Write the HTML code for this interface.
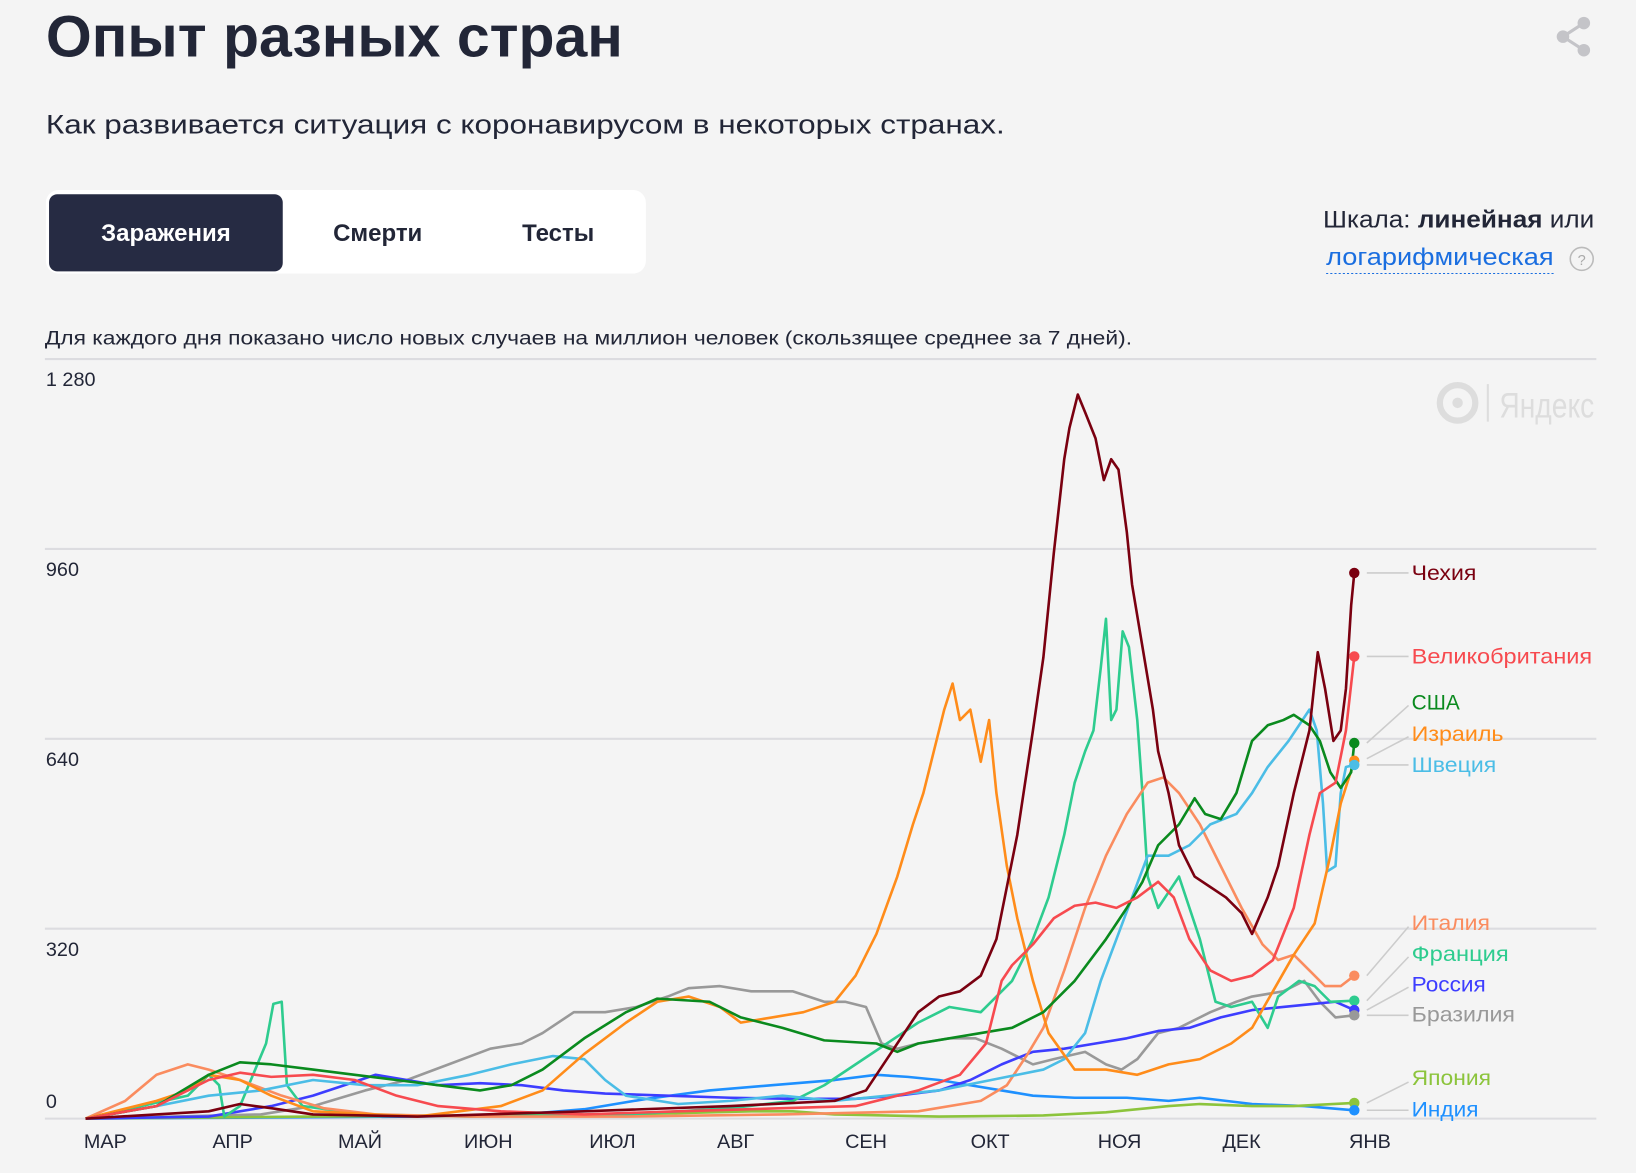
<!DOCTYPE html>
<html><head><meta charset="utf-8"><style>
html,body{margin:0;padding:0;background:#f4f4f4;}
svg{display:block}
text{font-family:"Liberation Sans",sans-serif;}
</style></head><body>
<svg width="1636" height="1173" viewBox="0 0 1568 1124" xmlns="http://www.w3.org/2000/svg">
<rect width="1568" height="1124" fill="#f4f4f4"/>
<text x="44" y="54" font-size="56" font-weight="bold" fill="#222637" textLength="553" lengthAdjust="spacingAndGlyphs">Опыт разных стран</text>
<text x="44" y="128" font-size="26" fill="#222637" textLength="919" lengthAdjust="spacingAndGlyphs">Как развивается ситуация с коронавирусом в некоторых странах.</text>
<g fill="#c4c4c8"><circle cx="1518" cy="22" r="6"/><circle cx="1498" cy="35" r="6"/><circle cx="1518" cy="48" r="6"/></g>
<path d="M1518 22L1498 35L1518 48" stroke="#c4c4c8" stroke-width="3" fill="none"/>
<rect x="44" y="182" width="575" height="80" rx="12" fill="#fff"/>
<rect x="47" y="186" width="224" height="74" rx="8" fill="#262b43"/>
<text x="159" y="231" font-size="23" fill="#fff" text-anchor="middle" font-weight="bold">Заражения</text>
<text x="362" y="231" font-size="23" fill="#222637" text-anchor="middle" font-weight="bold">Смерти</text>
<text x="535" y="231" font-size="23" fill="#222637" text-anchor="middle" font-weight="bold">Тесты</text>
<text x="1268" y="218" font-size="23" fill="#222637" textLength="260" lengthAdjust="spacingAndGlyphs">Шкала: <tspan font-weight="bold">линейная</tspan> или</text>
<text x="1271" y="254" font-size="23" fill="#1a6ee0" textLength="218" lengthAdjust="spacingAndGlyphs">логарифмическая</text>
<line x1="1271" y1="262" x2="1489" y2="262" stroke="#1a6ee0" stroke-dasharray="2,2"/>
<circle cx="1516" cy="248" r="11" fill="none" stroke="#bbb" stroke-width="1.5"/>
<text x="1516" y="254" font-size="14" fill="#aaa" text-anchor="middle">?</text>
<text x="43" y="330" font-size="19" fill="#222637" textLength="1042" lengthAdjust="spacingAndGlyphs">Для каждого дня показано число новых случаев на миллион человек (скользящее среднее за 7 дней).</text>
<g stroke="#dcdce0" stroke-width="2">
<line x1="43" y1="344" x2="1530" y2="344"/><line x1="43" y1="526" x2="1530" y2="526"/><line x1="43" y1="708" x2="1530" y2="708"/><line x1="43" y1="890" x2="1530" y2="890"/><line x1="43" y1="1072" x2="1530" y2="1072"/></g>
<g font-size="19" fill="#222637">
<text x="44" y="370">1 280</text><text x="44" y="552">960</text><text x="44" y="734">640</text><text x="44" y="916">320</text><text x="44" y="1062">0</text></g>
<g font-size="19" fill="#222637" text-anchor="middle">
<text x="101" y="1100">МАР</text><text x="223" y="1100">АПР</text><text x="345" y="1100">МАЙ</text><text x="468" y="1100">ИЮН</text><text x="587" y="1100">ИЮЛ</text><text x="705" y="1100">АВГ</text><text x="830" y="1100">СЕН</text><text x="949" y="1100">ОКТ</text><text x="1073" y="1100">НОЯ</text><text x="1190" y="1100">ДЕК</text><text x="1313" y="1100">ЯНВ</text></g>
<circle cx="1397" cy="386" r="17" fill="none" stroke="#ddd" stroke-width="6"/><circle cx="1397" cy="386" r="5" fill="#ddd"/>
<line x1="1426" y1="368" x2="1426" y2="404" stroke="#ddd" stroke-width="2"/>
<text x="1437" y="400" font-size="34" fill="#ddd" textLength="91" lengthAdjust="spacingAndGlyphs">Яндекс</text>
<g fill="none" stroke-width="2.5" stroke-linejoin="round">
<polyline stroke="#999" points="82,1072 250,1068 300,1060 350,1045 390,1035 430,1020 470,1005 500,1000 520,990 550,970 580,970 610,965 640,955 660,947 690,945 720,950 760,950 790,960 810,960 830,965 845,1000 860,1005 880,1000 910,995 935,995 960,1005 990,1020 1010,1015 1040,1008 1060,1020 1075,1025 1090,1015 1110,990 1130,985 1160,970 1185,960 1200,955 1230,950 1250,940 1265,960 1280,975 1298,973"/>
<polyline stroke="#1e90ff" points="82,1072 400,1070 500,1068 560,1063 620,1053 680,1045 740,1040 800,1035 840,1030 870,1032 900,1035 930,1040 960,1045 990,1050 1030,1052 1080,1052 1120,1055 1150,1052 1200,1058 1250,1060 1298,1064"/>
<polyline stroke="#8cc43c" points="82,1072 300,1070 600,1068 720,1065 760,1065 800,1068 900,1070 1000,1069 1060,1066 1120,1060 1150,1058 1200,1060 1240,1060 1298,1057"/>
<polyline stroke="#3d3dff" points="82,1072 200,1070 260,1060 300,1050 330,1040 360,1030 390,1035 420,1040 460,1038 500,1040 540,1045 580,1048 640,1050 700,1052 760,1053 820,1053 860,1050 900,1045 930,1035 960,1020 990,1008 1020,1005 1050,1000 1080,995 1110,988 1140,985 1170,975 1200,968 1230,965 1260,962 1280,960 1298,968"/>
<polyline stroke="#2ecc8f" points="82,1072 180,1050 200,1030 210,1040 215,1070 230,1060 255,1000 262,962 270,960 275,1040 290,1060 350,1068 450,1070 600,1068 700,1062 760,1055 790,1040 820,1020 850,1000 880,980 910,965 940,970 970,940 990,900 1005,860 1020,800 1030,750 1040,720 1048,700 1055,640 1060,593 1065,690 1070,680 1076,605 1082,620 1090,690 1095,760 1100,840 1110,870 1130,840 1150,900 1165,960 1180,965 1200,960 1215,985 1225,955 1245,940 1260,945 1275,960 1298,959"/>
<polyline stroke="#fa8c5f" points="82,1072 120,1055 150,1030 180,1020 200,1025 230,1035 270,1050 310,1062 360,1068 450,1070 600,1070 750,1068 880,1065 940,1055 965,1040 985,1010 1000,985 1020,930 1040,870 1060,820 1080,780 1100,750 1115,745 1130,760 1150,790 1170,830 1190,870 1210,905 1225,920 1240,915 1255,930 1270,945 1285,945 1298,935"/>
<polyline stroke="#4bbde6" points="82,1072 150,1060 200,1050 250,1045 300,1035 350,1040 400,1040 450,1030 490,1020 530,1012 560,1015 580,1035 600,1050 650,1058 700,1055 750,1050 800,1055 850,1050 900,1045 950,1035 1000,1025 1020,1015 1040,990 1055,940 1070,900 1085,860 1100,820 1120,820 1140,810 1160,790 1185,780 1200,760 1215,735 1235,710 1255,680 1262,700 1268,770 1272,835 1280,830 1285,760 1290,735 1298,733"/>
<polyline stroke="#ff8c1a" points="82,1072 150,1055 180,1045 200,1030 230,1035 260,1050 300,1065 400,1070 480,1060 520,1045 560,1010 600,980 630,960 660,955 690,965 710,980 740,975 770,970 800,960 820,935 840,895 860,840 875,790 885,760 895,720 905,680 913,655 920,690 930,680 940,730 948,690 955,760 965,830 975,880 990,940 1005,990 1030,1025 1060,1025 1090,1030 1120,1020 1150,1015 1180,1000 1200,985 1220,950 1240,915 1260,885 1275,820 1285,770 1298,729"/>
<polyline stroke="#0a8a1e" points="82,1072 150,1060 200,1030 230,1018 260,1020 300,1025 340,1030 380,1035 420,1040 460,1045 490,1040 520,1025 560,995 600,970 630,957 680,960 710,975 750,985 790,997 840,1000 860,1008 880,1000 910,995 940,990 970,985 1000,970 1030,940 1060,900 1080,870 1095,845 1110,810 1130,790 1145,765 1155,780 1170,785 1185,760 1200,710 1215,695 1230,690 1240,685 1255,695 1265,710 1275,740 1285,755 1295,740 1298,712"/>
<polyline stroke="#f74a4f" points="82,1072 150,1060 200,1035 230,1028 260,1032 300,1030 340,1035 380,1050 420,1060 480,1065 560,1068 650,1065 750,1062 820,1060 880,1045 920,1030 945,1000 960,940 970,925 990,905 1010,880 1030,868 1050,865 1070,870 1090,860 1110,845 1125,860 1140,900 1160,930 1180,940 1200,935 1220,920 1240,870 1255,800 1265,760 1280,750 1290,700 1298,629"/>
<polyline stroke="#7a0010" points="82,1072 200,1065 230,1058 260,1062 300,1068 400,1070 560,1065 700,1060 800,1055 830,1045 860,1000 880,970 900,955 920,950 940,935 955,900 965,850 975,800 990,700 1000,630 1010,530 1020,440 1025,410 1033,378 1040,395 1050,420 1058,460 1065,440 1072,450 1080,510 1085,560 1095,620 1105,680 1110,720 1120,760 1130,810 1145,840 1160,850 1175,860 1190,875 1200,895 1215,860 1225,830 1240,760 1255,700 1263,625 1270,660 1278,710 1285,700 1290,660 1295,580 1298,549"/>
</g>
<g stroke="#ccc" stroke-width="1.5" fill="none">
<path d="M1310 549H1350M1310 629H1350M1310 712L1350 676M1310 727L1350 706M1310 733H1350M1310 935L1350 888M1310 959L1350 917M1310 968L1350 946M1310 973H1350M1310 1057L1350 1037M1310 1064H1350"/></g>
<g>
<circle cx="1298" cy="549" r="5" fill="#7a0010"/><circle cx="1298" cy="629" r="5" fill="#f74a4f"/><circle cx="1298" cy="712" r="5" fill="#0a8a1e"/><circle cx="1298" cy="729" r="5" fill="#ff8c1a"/><circle cx="1298" cy="733" r="5" fill="#4bbde6"/><circle cx="1298" cy="935" r="5" fill="#fa8c5f"/><circle cx="1298" cy="959" r="5" fill="#2ecc8f"/><circle cx="1298" cy="968" r="5" fill="#3d3dff"/><circle cx="1298" cy="973" r="5" fill="#999"/><circle cx="1298" cy="1057" r="5" fill="#8cc43c"/><circle cx="1298" cy="1064" r="5" fill="#1e90ff"/></g>
<g font-size="20">
<text x="1353" y="556" fill="#7a0010" textLength="62" lengthAdjust="spacingAndGlyphs">Чехия</text>
<text x="1353" y="636" fill="#f74a4f" textLength="173" lengthAdjust="spacingAndGlyphs">Великобритания</text>
<text x="1353" y="680" fill="#0a8a1e">США</text>
<text x="1353" y="710" fill="#ff8c1a" textLength="88" lengthAdjust="spacingAndGlyphs">Израиль</text>
<text x="1353" y="740" fill="#4bbde6" textLength="81" lengthAdjust="spacingAndGlyphs">Швеция</text>
<text x="1353" y="891" fill="#fa8c5f" textLength="75" lengthAdjust="spacingAndGlyphs">Италия</text>
<text x="1353" y="921" fill="#2ecc8f" textLength="93" lengthAdjust="spacingAndGlyphs">Франция</text>
<text x="1353" y="950" fill="#3d3dff" textLength="71" lengthAdjust="spacingAndGlyphs">Россия</text>
<text x="1353" y="979" fill="#999" textLength="99" lengthAdjust="spacingAndGlyphs">Бразилия</text>
<text x="1353" y="1040" fill="#8cc43c" textLength="76" lengthAdjust="spacingAndGlyphs">Япония</text>
<text x="1353" y="1070" fill="#1e90ff" textLength="64" lengthAdjust="spacingAndGlyphs">Индия</text></g>
</svg>
</body></html>
